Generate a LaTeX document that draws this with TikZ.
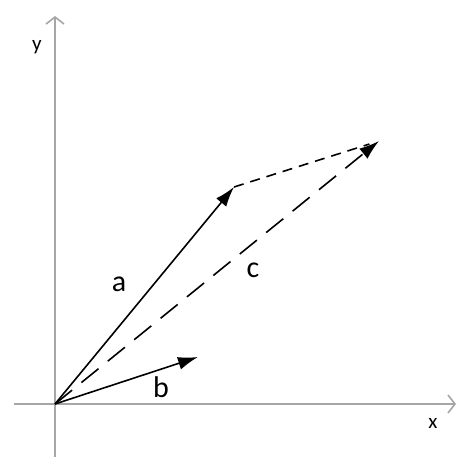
\documentclass[tikz,border=0pt]{standalone}
\usepackage{fontspec}
\setmainfont{Carlito}
\usetikzlibrary{arrows.meta,calc}
\begin{document}
\begin{tikzpicture}[x=1pt,y=-1pt,
  axis/.style={draw=black!35,line width=1.6pt,-{Straight Barb[length=7pt,width=18pt,line width=1.6pt]}},
  vec/.style={draw=black,line width=1.6pt,-{Latex[length=20pt,width=13pt]}},
  lbl/.style={font=\fontsize{30}{30}\selectfont,inner sep=0pt},
  axlbl/.style={font=\fontsize{21}{21}\selectfont,inner sep=0pt}]
\useasboundingbox (0,0) rectangle (474,474);
\coordinate (O) at (55,404);
\coordinate (xs) at (14,404);
\coordinate (xe) at (456,404);
\coordinate (ys) at (55,457);
\coordinate (ye) at (55,16);
\coordinate (A) at (234,187);
\coordinate (B) at (198,357);
\coordinate (C) at (379,141);
\draw[axis] (xs) -- (xe);
\draw[axis] (ys) -- (ye);
\draw[draw=black,line width=1.6pt,dash pattern=on 10pt off 7pt] (A) -- ($(C)!10pt!(A)$);
\draw[vec,dash pattern=on 22pt off 12pt] (O) -- (C);
\draw[vec] (O) -- (A);
\draw[vec] (O) -- (B);
\node[lbl] (la) at (119,284) {a};
\node[lbl] (lb) at (161,387) {b};
\node[lbl] (lc) at (253,270) {c};
\node[axlbl] (lx) at (433,423) {x};
\node[axlbl] (ly) at (37,47) {y};
\end{tikzpicture}
\end{document}
